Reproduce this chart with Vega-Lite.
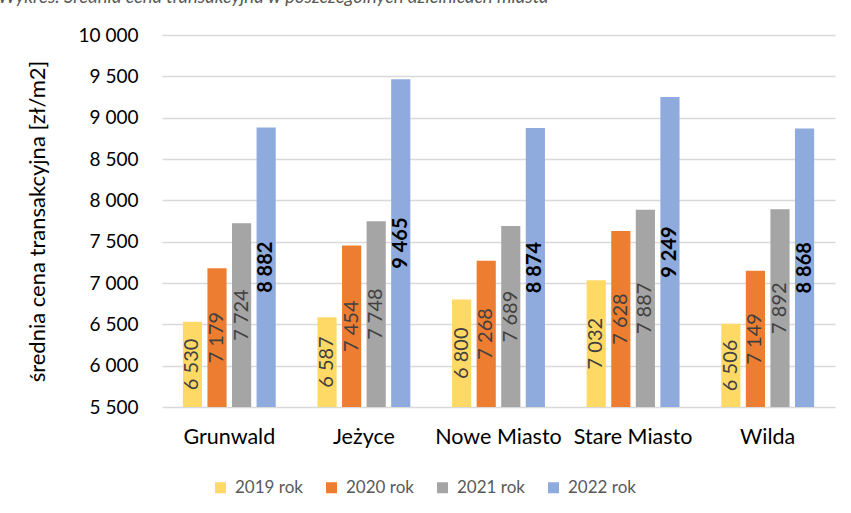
{
  "$schema": "https://vega.github.io/schema/vega-lite/v6.json",
  "width": 673,
  "height": 372,
  "autosize": {"type": "none"},
  "padding": {"left": 162, "top": 35, "right": 16, "bottom": 106},
  "config": {
    "locale": {"number": {"decimal": ",", "thousands": " ", "grouping": [3], "currency": ["", " zł"]}},
    "view": {"stroke": null},
    "font": "Lato"
  },
  "title": {
    "text": "Wykres. Średnia cena transakcyjna w poszczególnych dzielnicach miasta",
    "anchor": "start",
    "frame": "group",
    "dx": -164,
    "dy": 9,
    "offset": 14,
    "baseline": "alphabetic",
    "fontStyle": "italic",
    "fontWeight": "normal",
    "fontSize": 18.5,
    "color": "#595959"
  },
  "data": {
    "values": [
      {"dzielnica": "Grunwald", "rok": "2019 rok", "value": 6530},
      {"dzielnica": "Grunwald", "rok": "2020 rok", "value": 7179},
      {"dzielnica": "Grunwald", "rok": "2021 rok", "value": 7724},
      {"dzielnica": "Grunwald", "rok": "2022 rok", "value": 8882},
      {"dzielnica": "Jeżyce", "rok": "2019 rok", "value": 6587},
      {"dzielnica": "Jeżyce", "rok": "2020 rok", "value": 7454},
      {"dzielnica": "Jeżyce", "rok": "2021 rok", "value": 7748},
      {"dzielnica": "Jeżyce", "rok": "2022 rok", "value": 9465},
      {"dzielnica": "Nowe Miasto", "rok": "2019 rok", "value": 6800},
      {"dzielnica": "Nowe Miasto", "rok": "2020 rok", "value": 7268},
      {"dzielnica": "Nowe Miasto", "rok": "2021 rok", "value": 7689},
      {"dzielnica": "Nowe Miasto", "rok": "2022 rok", "value": 8874},
      {"dzielnica": "Stare Miasto", "rok": "2019 rok", "value": 7032},
      {"dzielnica": "Stare Miasto", "rok": "2020 rok", "value": 7628},
      {"dzielnica": "Stare Miasto", "rok": "2021 rok", "value": 7887},
      {"dzielnica": "Stare Miasto", "rok": "2022 rok", "value": 9249},
      {"dzielnica": "Wilda", "rok": "2019 rok", "value": 6506},
      {"dzielnica": "Wilda", "rok": "2020 rok", "value": 7149},
      {"dzielnica": "Wilda", "rok": "2021 rok", "value": 7892},
      {"dzielnica": "Wilda", "rok": "2022 rok", "value": 8868}
    ]
  },
  "transform": [{"calculate": "(datum.value + 5500) / 2", "as": "mid"}],
  "encoding": {
    "x": {
      "field": "dzielnica",
      "type": "nominal",
      "sort": null,
      "scale": {"paddingInner": 0.31, "paddingOuter": 0.155},
      "axis": {
        "title": null,
        "labelAngle": 0,
        "labelFontSize": 21.5,
        "labelColor": "#000000",
        "labelPadding": 19,
        "ticks": false,
        "domain": false,
        "grid": false
      }
    },
    "xOffset": {
      "field": "rok",
      "type": "nominal",
      "scale": {"paddingInner": 0.22, "paddingOuter": 0}
    }
  },
  "layer": [
    {
      "mark": {"type": "bar"},
      "encoding": {
        "y": {
          "field": "value",
          "type": "quantitative",
          "scale": {"domain": [5500, 10000], "zero": false, "nice": false},
          "axis": {
            "values": [5500, 6000, 6500, 7000, 7500, 8000, 8500, 9000, 9500, 10000],
            "labelExpr": "format(datum.value, ',d')",
            "title": "średnia cena transakcyjna [zł/m2]",
            "titleFontSize": 22,
            "titleFontWeight": "normal",
            "titleColor": "#000000",
            "titlePadding": 29,
            "labelFontSize": 19,
            "labelColor": "#000000",
            "labelPadding": 24,
            "ticks": false,
            "domain": false,
            "grid": true,
            "gridColor": "#d9d9d9",
            "gridWidth": 1.4
          }
        },
        "y2": {"datum": 5500},
        "color": {
          "field": "rok",
          "type": "nominal",
          "scale": {
            "domain": ["2019 rok", "2020 rok", "2021 rok", "2022 rok"],
            "range": ["#FFD966", "#ED7D31", "#A5A5A5", "#8FAADC"]
          },
          "legend": {
            "title": null,
            "orient": "none",
            "legendX": 50,
            "legendY": 444,
            "direction": "horizontal",
            "symbolType": "square",
            "symbolSize": 121,
            "symbolStrokeWidth": 0,
            "labelFontSize": 17,
            "labelColor": "#595959",
            "columnPadding": 20,
            "labelOffset": 6
          }
        }
      }
    },
    {
      "transform": [{"filter": "datum.rok != '2022 rok'"}],
      "mark": {"type": "text", "angle": 270, "align": "center", "baseline": "middle", "fontSize": 20, "color": "#404040"},
      "encoding": {
        "y": {"field": "mid", "type": "quantitative"},
        "text": {"field": "value", "type": "quantitative", "format": ","}
      }
    },
    {
      "transform": [{"filter": "datum.rok == '2022 rok'"}],
      "mark": {"type": "text", "angle": 270, "align": "center", "baseline": "middle", "fontSize": 20, "fontWeight": "bold", "color": "#000000"},
      "encoding": {
        "y": {"field": "mid", "type": "quantitative"},
        "text": {"field": "value", "type": "quantitative", "format": ","}
      }
    }
  ]
}
